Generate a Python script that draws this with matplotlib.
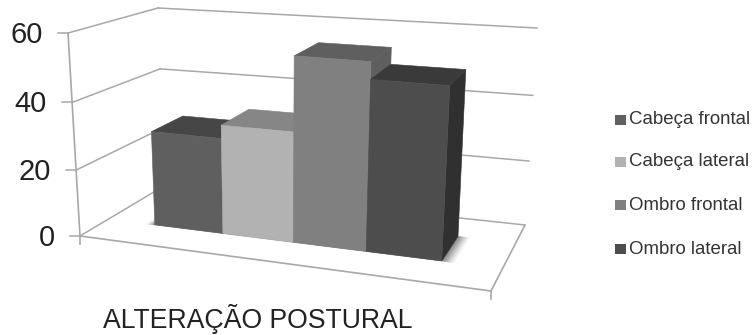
import matplotlib
matplotlib.use("Agg")
import matplotlib.pyplot as plt
from matplotlib.patches import Polygon, Rectangle
import numpy as np

plt.rcParams['font.family'] = ['Liberation Sans', 'DejaVu Sans']

# Datos
categorias = ["Cabeça frontal", "Cabeça lateral", "Ombro frontal", "Ombro lateral"]
valores = [29, 33, 55, 50]
marcas_y = [0, 20, 40, 60]
titulo_x = "ALTERAÇÃO POSTURAL"

# Colores de cada barra: frente, tapa y lateral
col_frente = ["#5f5f5f", "#b2b2b2", "#808080", "#4d4d4d"]
col_tapa = ["#464646", "#868686", "#5f5f5f", "#3a3a3a"]
col_lado = ["#464646", "#868686", "#5f5f5f", "#303030"]

# Esquinas de la caja 3D en pixeles (suelo y techo, delante y detras)
SUELO = {"fi": (80, 236), "fd": (491, 291), "ti": (164, 186), "td": (525, 225)}
TECHO = {"fi": (68, 33), "fd": (505, 67), "ti": (158, 8), "td": (537, 28)}
Z_MAX = 60
PERSP = 1.1
PERSP_Z = 1.04
HUECO = 0.7
PROF_BARRA = (0.34, 0.73)


def bilineal(esq, u, v):
    a = np.array(esq["fi"]) * (1 - v) + np.array(esq["ti"]) * v
    b = np.array(esq["fd"]) * (1 - v) + np.array(esq["td"]) * v
    return a * (1 - u) + b * u


def proyectar(u, v, z):
    """Pasa una posicion de la caja (u, v, valor) a pixeles"""
    abajo = bilineal(SUELO, u, v)
    arriba = bilineal(TECHO, u, v)
    s = z / Z_MAX
    f = s / (s + PERSP_Z * (1 - s))
    return abajo + (arriba - abajo) * f


def pos_categoria(c):
    # c es el borde de barra en unidades de categoria, con algo de perspectiva
    t = (HUECO + c) / (len(categorias) + 2 * HUECO + 0.08)
    return t / (t + PERSP * (1 - t))


def cara(ax, puntos, color, zorder):
    ax.add_patch(Polygon(puntos, closed=True, facecolor=color, edgecolor=color,
                         linewidth=0.4, zorder=zorder))


def linea(ax, p0, p1, lw=1.1, zorder=1):
    ax.plot([p0[0], p1[0]], [p0[1], p1[1]], color="#a8a8a8", lw=lw,
            solid_capstyle="projecting", zorder=zorder)


fig = plt.figure(figsize=(7.56, 3.35), dpi=100)
ax = fig.add_axes([0, 0, 1, 1])
ax.set_xlim(0, 756)
ax.set_ylim(335, 0)
ax.axis('off')

# Rejilla de las paredes
for m in marcas_y:
    linea(ax, proyectar(0, 0, m), proyectar(0, 1, m))
    linea(ax, proyectar(0, 1, m), proyectar(1, 1, m))
    p = proyectar(0, 0, m)
    linea(ax, (p[0] - 10, p[1]), p)
    ax.text(p[0] - 25, p[1] + 2, str(m), ha='right', va='center', fontsize=21, color="#222222")

# Contorno del suelo y marcas de profundidad
linea(ax, proyectar(0, 0, 0), proyectar(1, 0, 0), lw=1.2)
linea(ax, proyectar(1, 0, 0), proyectar(1, 1, 0), lw=1.2)
linea(ax, proyectar(0, 0, 0), proyectar(0, 0, Z_MAX), lw=1.2)
for u in [0, 1]:
    p = proyectar(u, 0, 0)
    linea(ax, p, (p[0], p[1] + 8), lw=1.2)

v0, v1 = PROF_BARRA

# Sombra difusa de las barras sobre el suelo
u_a, u_b = pos_categoria(0), pos_categoria(len(categorias))
for i, e in enumerate(np.linspace(0.035, 0.004, 6)):
    sombra = [proyectar(u_a - e * 0.6, v0 - e * 0.3, 0), proyectar(u_b + e * 0.9, v0 - e * 0.3, 0),
              proyectar(u_b + e * 0.9, v1, 0), proyectar(u_a - e * 0.6, v1, 0)]
    ax.add_patch(Polygon(sombra, closed=True, facecolor="#000000", edgecolor='none',
                         alpha=0.05 + i * 0.02, zorder=2))

# Barras de izquierda a derecha, cada una tapa a la anterior
for i, valor in enumerate(valores):
    ua, ub = pos_categoria(i), pos_categoria(i + 1)
    z = 3 + i
    cara(ax, [proyectar(ub, v0, 0), proyectar(ub, v1, 0),
              proyectar(ub, v1, valor), proyectar(ub, v0, valor)], col_lado[i], z)
    cara(ax, [proyectar(ua, v0, valor), proyectar(ub, v0, valor),
              proyectar(ub, v1, valor), proyectar(ua, v1, valor)], col_tapa[i], z)
    cara(ax, [proyectar(ua, v0, 0), proyectar(ub, v0, 0),
              proyectar(ub, v0, valor), proyectar(ua, v0, valor)], col_frente[i], z)

ax.text(257.5, 328, titulo_x, ha='center', va='baseline', fontsize=19.2, color="#222222")

# Leyenda
leyenda_y = [120, 162, 205, 249]
for nombre, color, y in zip(categorias, col_frente, leyenda_y):
    ax.add_patch(Rectangle((615, y - 5), 10.5, 10, facecolor=color, edgecolor='none'))
    ax.text(629, y, nombre, ha='left', va='center', fontsize=13.4, color="#333333")

fig.savefig("out.png", dpi=100)
